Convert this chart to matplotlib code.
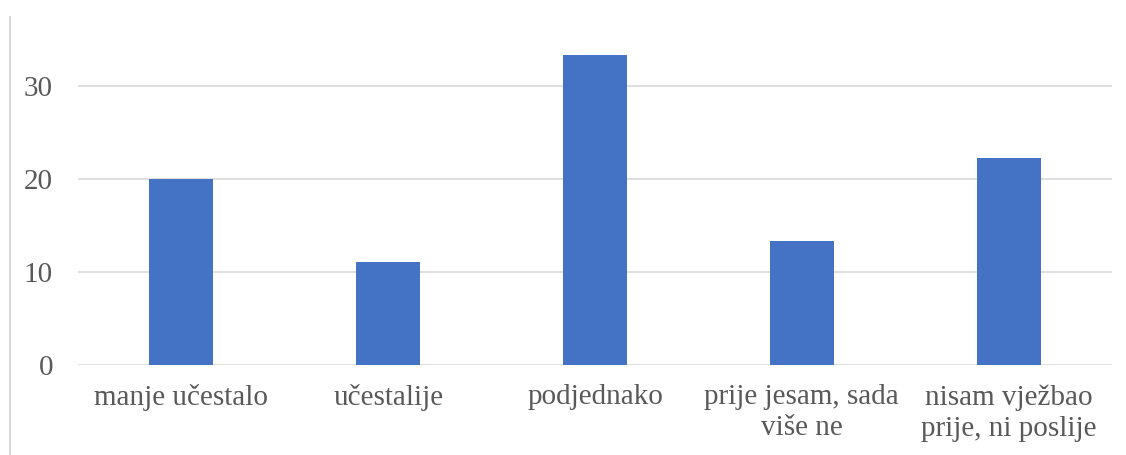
import matplotlib.pyplot as plt
from matplotlib.lines import Line2D

# Data
categories = ['manje učestalo', 'učestalije', 'podjednako',
              'prije jesam, sada\nviše ne', 'nisam vježbao\nprije, ni poslije']
values = [20.0, 11.1, 33.3, 13.3, 22.2]
y_ticks = [0, 10, 20, 30]

plt.rcParams['font.family'] = ['Liberation Serif', 'DejaVu Serif']

fig = plt.figure(figsize=(11.26, 4.55), dpi=100)
ax = fig.add_axes((0.0693, 0.1978, 0.9183, 0.7165))

x = range(len(categories))
ax.bar(x, values, width=0.31, color='#4472C4', zorder=3)

ax.set_xlim(-0.5, len(categories) - 0.5)
ax.set_ylim(0, 35)
ax.set_yticks(y_ticks)
ax.set_xticks(list(x))
ax.set_xticklabels(categories, linespacing=1.25)
ax.tick_params(axis='y', length=0, pad=18, labelsize=21, labelcolor='#595959')
ax.tick_params(axis='x', length=0, pad=14, labelsize=21, labelcolor='#595959')

# horizontal gridlines (incl. zero line)
ax.grid(axis='y', color='#D9D9D9', linewidth=1.2, zorder=0)
ax.grid(axis='x', visible=False)
for s in ax.spines.values():
    s.set_visible(False)

# light frame line on the left of the chart
fig.add_artist(Line2D([10 / 1126, 10 / 1126], [0, 1 - 17 / 455],
                      transform=fig.transFigure, color='#D9D9D9', linewidth=1.5))

fig.savefig('out.png', dpi=100, facecolor='white')
plt.close()
